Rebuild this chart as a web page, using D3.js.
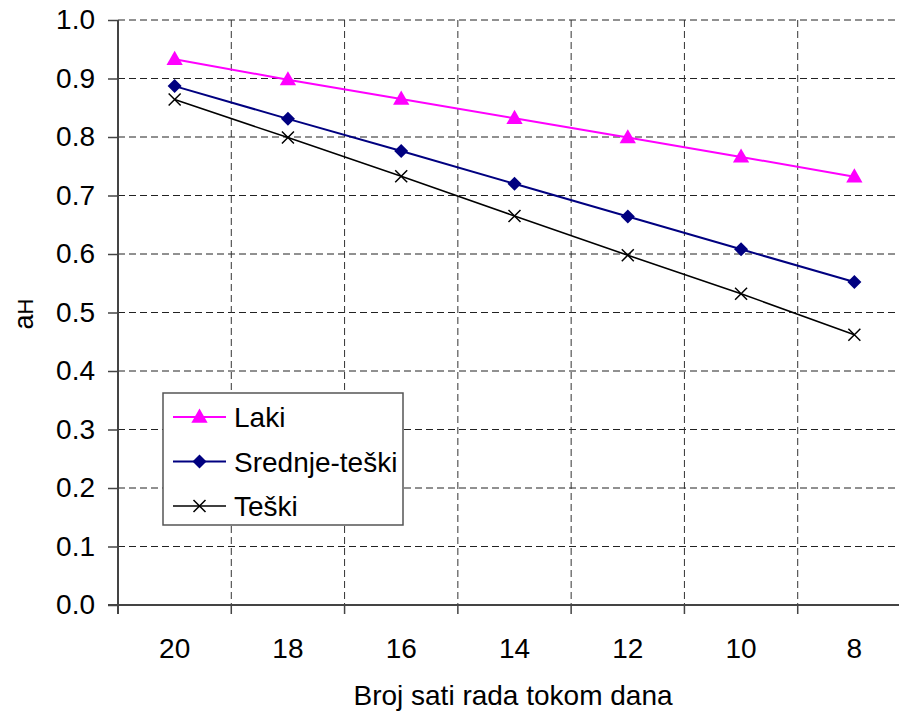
<!DOCTYPE html>
<html>
<head>
<meta charset="utf-8">
<script src="https://cdn.jsdelivr.net/npm/d3@7"></script>
<style>
  body { margin: 0; background: #fff; }
  svg { display: block; font-family: "Liberation Sans", Arial, sans-serif; }
</style>
</head>
<body>
<div id="chart"></div>
<script>
// hours worked per day (x axis, reversed order as in original)
const hours = ["20", "18", "16", "14", "12", "10", "8"];
const laki = [0.933, 0.898, 0.865, 0.832, 0.799, 0.766, 0.732];
const srednjeTeski = [0.887, 0.831, 0.776, 0.720, 0.664, 0.608, 0.552];
const teski = [0.864, 0.799, 0.733, 0.665, 0.598, 0.532, 0.462];
const yTicks = [0, 0.1, 0.2, 0.3, 0.4, 0.5, 0.6, 0.7, 0.8, 0.9, 1.0];

const series = [
  { name: "Laki", values: laki, color: "#ff00ff", width: 2, marker: "triangle" },
  { name: "Srednje-teški", values: srednjeTeski, color: "#000080", width: 2, marker: "diamond" },
  { name: "Teški", values: teski, color: "#000000", width: 1.5, marker: "cross" }
];

const W = 899, H = 711;
const margin = { top: 20, left: 118, bottom: 605, right: 911 };
const fontSize = 28;

const svg = d3.select("#chart").append("svg")
  .attr("width", W)
  .attr("height", H);

const x = d3.scaleBand().domain(hours).range([margin.left, margin.right]).padding(0);
const y = d3.scaleLinear().domain([0, 1]).range([margin.bottom, margin.top]);

// horizontal grid
svg.append("g")
  .selectAll("line")
  .data(yTicks.filter(d => d > 0))
  .join("line")
  .attr("x1", margin.left).attr("x2", margin.right)
  .attr("y1", d => y(d)).attr("y2", d => y(d))
  .attr("stroke", "#222")
  .attr("stroke-width", 1)
  .attr("stroke-dasharray", "7,4");

// vertical grid at category boundaries
const bounds = hours.slice(1).map(h => x(h));
svg.append("g")
  .selectAll("line")
  .data(bounds)
  .join("line")
  .attr("x1", d => d).attr("x2", d => d)
  .attr("y1", margin.top).attr("y2", margin.bottom)
  .attr("stroke", "#333")
  .attr("stroke-width", 1)
  .attr("stroke-dasharray", "7,4");

// y axis
const yAxis = d3.axisLeft(y)
  .tickValues(yTicks)
  .tickFormat(d3.format(".1f"))
  .tickSize(10)
  .tickPadding(13);
const yAxisG = svg.append("g")
  .attr("transform", "translate(" + margin.left + ",0)")
  .call(yAxis);
yAxisG.select(".domain").remove();
yAxisG.selectAll(".tick line").attr("stroke", "#444").attr("stroke-width", 1.5);
yAxisG.selectAll(".tick text")
  .attr("font-size", fontSize)
  .attr("font-family", "Liberation Sans, Arial, sans-serif")
  .attr("fill", "#000");
svg.append("line")
  .attr("x1", margin.left).attr("x2", margin.left)
  .attr("y1", margin.top).attr("y2", margin.bottom + 9)
  .attr("stroke", "#444").attr("stroke-width", 2);

// x axis
svg.append("line")
  .attr("x1", margin.left - 10).attr("x2", margin.right)
  .attr("y1", margin.bottom).attr("y2", margin.bottom)
  .attr("stroke", "#444").attr("stroke-width", 2);
svg.append("g")
  .selectAll("line")
  .data(bounds)
  .join("line")
  .attr("x1", d => d).attr("x2", d => d)
  .attr("y1", margin.bottom).attr("y2", margin.bottom + 9)
  .attr("stroke", "#444").attr("stroke-width", 1.5);
svg.append("g")
  .selectAll("text")
  .data(hours)
  .join("text")
  .attr("x", d => x(d) + x.bandwidth() / 2)
  .attr("y", 658)
  .attr("text-anchor", "middle")
  .attr("font-size", fontSize)
  .text(d => d);

// axis titles
svg.append("text")
  .attr("x", 513)
  .attr("y", 705)
  .attr("text-anchor", "middle")
  .attr("font-size", fontSize)
  .text("Broj sati rada tokom dana");

const yTitle = svg.append("text")
  .attr("transform", "translate(33,314) rotate(-90)")
  .attr("text-anchor", "middle")
  .attr("font-size", 27);
yTitle.append("tspan").text("a");
yTitle.append("tspan").attr("font-size", 22).text("H");

// markers
function drawMarker(g, type, color, cx, cy) {
  if (type === "triangle") {
    g.append("path")
      .attr("d", d3.symbol(d3.symbolTriangle, 115)())
      .attr("transform", "translate(" + cx + "," + (cy + 1) + ")")
      .attr("fill", color);
  } else if (type === "diamond") {
    g.append("path")
      .attr("d", "M0,-7L7,0L0,7L-7,0Z")
      .attr("transform", "translate(" + cx + "," + cy + ")")
      .attr("fill", color);
  } else {
    g.append("path")
      .attr("d", "M-6,-6L6,6M-6,6L6,-6")
      .attr("transform", "translate(" + cx + "," + cy + ")")
      .attr("stroke", color)
      .attr("stroke-width", 1.5)
      .attr("fill", "none");
  }
}

const line = d3.line()
  .x((d, i) => x(hours[i]) + x.bandwidth() / 2)
  .y(d => y(d));

series.forEach(s => {
  const g = svg.append("g");
  g.append("path")
    .datum(s.values)
    .attr("d", line)
    .attr("fill", "none")
    .attr("stroke", s.color)
    .attr("stroke-width", s.width);
  s.values.forEach((v, i) => {
    drawMarker(g, s.marker, s.color, x(hours[i]) + x.bandwidth() / 2, y(v));
  });
});

// legend
const legend = svg.append("g");
legend.append("rect")
  .attr("x", 163).attr("y", 393)
  .attr("width", 240).attr("height", 132)
  .attr("fill", "#fff")
  .attr("stroke", "#555")
  .attr("stroke-width", 1.5);
series.forEach((s, i) => {
  const ly = 417 + i * 44.5;
  legend.append("line")
    .attr("x1", 173).attr("x2", 226)
    .attr("y1", ly).attr("y2", ly)
    .attr("stroke", s.color)
    .attr("stroke-width", s.width);
  drawMarker(legend, s.marker, s.color, 199.5, ly);
  legend.append("text")
    .attr("x", 234)
    .attr("y", ly + 10)
    .attr("font-size", fontSize)
    .text(s.name);
});
</script>
</body>
</html>
